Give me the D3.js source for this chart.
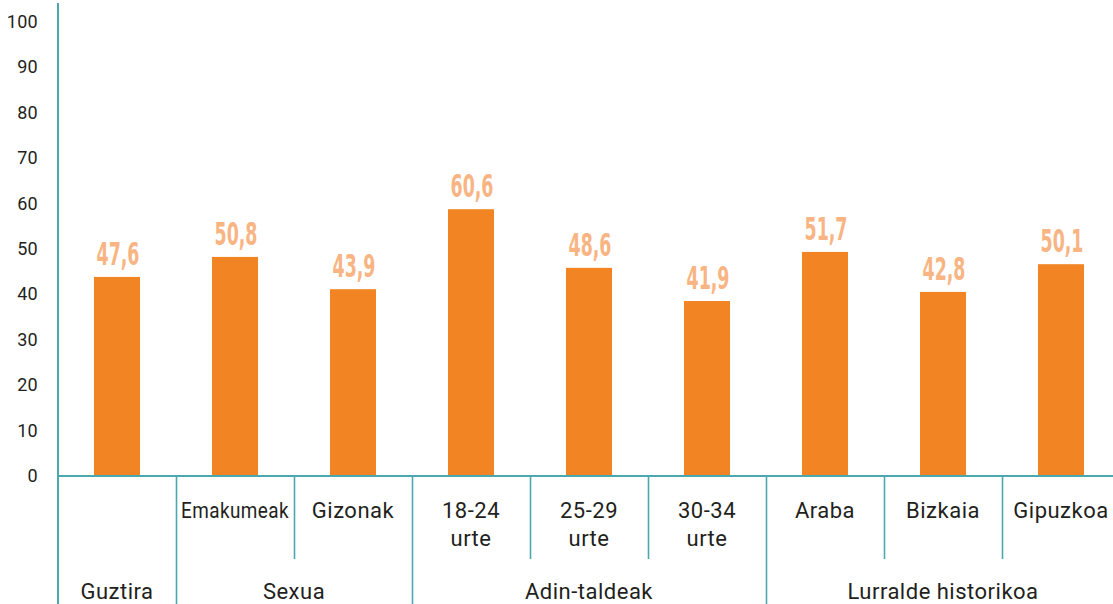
<!DOCTYPE html>
<html>
<head>
<meta charset="utf-8">
<script src="https://cdn.jsdelivr.net/npm/d3@7"></script>
<style>
  html, body { margin: 0; padding: 0; background: #ffffff; }
  svg { display: block; }
</style>
</head>
<body>
<svg id="chart" width="1113" height="604"></svg>
<script>
// ---- data ----
const categories = ["Guztira", "Emakumeak", "Gizonak", "18-24 urte", "25-29 urte", "30-34 urte", "Araba", "Bizkaia", "Gipuzkoa"];
const categoryLines = [[""], ["Emakumeak"], ["Gizonak"], ["18-24", "urte"], ["25-29", "urte"], ["30-34", "urte"], ["Araba"], ["Bizkaia"], ["Gipuzkoa"]];
const barValues = [43.8, 48.2, 41.1, 58.7, 45.8, 38.5, 49.3, 40.5, 46.6];
const valueLabels = ["47,6", "50,8", "43,9", "60,6", "48,6", "41,9", "51,7", "42,8", "50,1"];
const groupNames = ["Guztira", "Sexua", "Adin-taldeak", "Lurralde historikoa"];
const groupMembers = [["Guztira"], ["Emakumeak", "Gizonak"], ["18-24 urte", "25-29 urte", "30-34 urte"], ["Araba", "Bizkaia", "Gipuzkoa"]];
const yTicks = [0, 10, 20, 30, 40, 50, 60, 70, 80, 90, 100];

// ---- layout ----
const W = 1113, H = 604;
const left = 58, right = 1120, base = 476, top100 = 21.5;
const teal = "#4aa8ae", barColor = "#f28423", labelColor = "#f8b583", textColor = "#231f20";

const svg = d3.select("#chart");

const x = d3.scaleBand().domain(categories).range([left, right]).paddingInner(0.61).paddingOuter(0.305);
const xCell = d3.scaleBand().domain(categories).range([left, right]).padding(0);
const y = d3.scaleLinear().domain([0, 100]).range([base, top100]);

// y axis labels
const yAxis = d3.axisLeft(y).tickValues(yTicks).tickSize(0).tickPadding(20).tickFormat(d3.format("d"));
const gy = svg.append("g").attr("transform", `translate(${left},0)`).call(yAxis);
gy.select(".domain").remove();
gy.selectAll("text")
  .attr("font-family", "Roboto, 'DejaVu Sans', sans-serif")
  .attr("font-size", 18)
  .attr("letter-spacing", 0.3)
  .attr("fill", textColor);

// bars
svg.append("g").selectAll("rect")
  .data(categories)
  .join("rect")
  .attr("x", d => x(d))
  .attr("width", x.bandwidth())
  .attr("y", (d, i) => y(barValues[i]))
  .attr("height", (d, i) => y(0) - y(barValues[i]) - 1)
  .attr("fill", barColor);

// value labels
svg.append("g").selectAll("text")
  .data(categories)
  .join("text")
  .attr("x", d => x(d) + x.bandwidth() / 2 + 1)
  .attr("y", (d, i) => y(barValues[i]) - 12)
  .attr("text-anchor", "middle")
  .attr("font-family", "'Liberation Sans Narrow', 'DejaVu Sans Condensed', Roboto, sans-serif")
  .attr("font-weight", "bold")
  .attr("font-size", 32)
  .attr("fill", labelColor)
  .attr("textLength", 43)
  .attr("lengthAdjust", "spacingAndGlyphs")
  .text((d, i) => valueLabels[i]);

// axis lines
const lines = svg.append("g").attr("stroke", teal).attr("fill", "none");
lines.append("line").attr("x1", left).attr("x2", left).attr("y1", 3).attr("y2", H).attr("stroke-width", 2);
lines.append("line").attr("x1", left).attr("x2", W).attr("y1", base).attr("y2", base).attr("stroke-width", 2);

// group boundaries (full height) and inner category separators (short)
const groupStarts = groupMembers.map(m => m[0]);
categories.forEach((c, i) => {
  if (i === 0) return;
  const gx = Math.round(xCell(c)) + 0.5;
  const isGroup = groupStarts.includes(c);
  lines.append("line")
    .attr("x1", gx).attr("x2", gx)
    .attr("y1", base).attr("y2", isGroup ? H : 559)
    .attr("stroke-width", 1.6);
});

// category labels
const catG = svg.append("g")
  .attr("font-family", "Roboto, 'DejaVu Sans', sans-serif")
  .attr("font-size", 22)
  .attr("letter-spacing", 0.5)
  .attr("fill", textColor)
  .attr("text-anchor", "middle");
categories.forEach((c, i) => {
  const cx = xCell(c) + xCell.bandwidth() / 2;
  categoryLines[i].forEach((line, j) => {
    if (!line) return;
    const t = catG.append("text")
      .attr("x", cx)
      .attr("y", 518 + j * 28)
      .text(line);
    const w = t.node().getComputedTextLength();
    if (w > xCell.bandwidth() - 8) {
      t.attr("textLength", xCell.bandwidth() - 10).attr("lengthAdjust", "spacingAndGlyphs");
    }
  });
});

// group labels
const grpG = svg.append("g")
  .attr("font-family", "Roboto, 'DejaVu Sans', sans-serif")
  .attr("font-size", 22)
  .attr("letter-spacing", 0.5)
  .attr("fill", textColor)
  .attr("text-anchor", "middle");
groupNames.forEach((g, i) => {
  const m = groupMembers[i];
  const x0 = xCell(m[0]);
  const x1 = xCell(m[m.length - 1]) + xCell.bandwidth();
  grpG.append("text")
    .attr("x", (x0 + x1) / 2)
    .attr("y", 599)
    .text(g);
});
</script>
</body>
</html>
